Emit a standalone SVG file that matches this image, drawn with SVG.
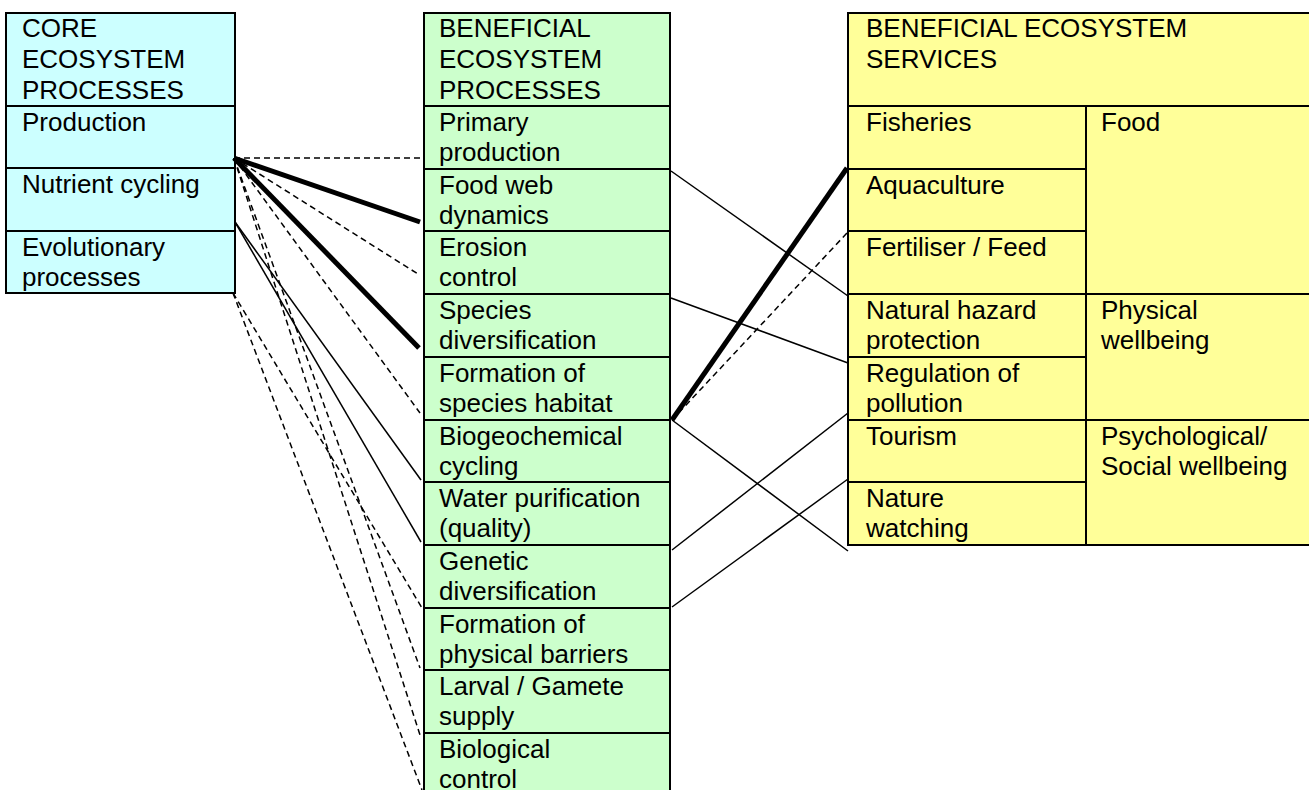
<svg xmlns="http://www.w3.org/2000/svg" width="1309" height="790" viewBox="0 0 1309 790">
<style>
.c{fill:#CCFFFF;stroke:#000;stroke-width:2}
.g{fill:#CCFFCC;stroke:#000;stroke-width:2}
.y{fill:#FFFF99;stroke:#000;stroke-width:2}
text{font-family:"Liberation Sans",Arial,sans-serif;font-size:26px;fill:#000}
.thin{stroke:#000;stroke-width:1.5;fill:none}
.thick{stroke:#000;stroke-width:5;fill:none}
.dash{stroke:#000;stroke-width:1.5;fill:none;stroke-dasharray:6,4}
</style>
<rect width="1309" height="790" fill="#fff"/>
<g id="core">
<rect class="c" x="6" y="13" width="229" height="93"/>
<text x="22" y="37">CORE</text><text x="22" y="68">ECOSYSTEM</text><text x="22" y="99">PROCESSES</text>
<rect class="c" x="6" y="106" width="229" height="62"/>
<text x="22" y="131">Production</text>
<rect class="c" x="6" y="168" width="229" height="63"/>
<text x="22" y="193">Nutrient cycling</text>
<rect class="c" x="6" y="231" width="229" height="62"/>
<text x="22" y="256">Evolutionary</text><text x="22" y="286">processes</text>
</g>
<g id="beneficial-processes">
<rect class="g" x="424" y="13" width="246" height="93"/>
<text x="439" y="37">BENEFICIAL</text><text x="439" y="68">ECOSYSTEM</text><text x="439" y="99">PROCESSES</text>
<rect class="g" x="424" y="106" width="246" height="63"/>
<text x="439" y="131">Primary</text><text x="439" y="161">production</text>
<rect class="g" x="424" y="169" width="246" height="62"/>
<text x="439" y="194">Food web</text><text x="439" y="224">dynamics</text>
<rect class="g" x="424" y="231" width="246" height="63"/>
<text x="439" y="256">Erosion</text><text x="439" y="286">control</text>
<rect class="g" x="424" y="294" width="246" height="63"/>
<text x="439" y="319">Species</text><text x="439" y="349">diversification</text>
<rect class="g" x="424" y="357" width="246" height="63"/>
<text x="439" y="382">Formation of</text><text x="439" y="412">species habitat</text>
<rect class="g" x="424" y="420" width="246" height="62"/>
<text x="439" y="445">Biogeochemical</text><text x="439" y="475">cycling</text>
<rect class="g" x="424" y="482" width="246" height="63"/>
<text x="439" y="507">Water purification</text><text x="439" y="537">(quality)</text>
<rect class="g" x="424" y="545" width="246" height="63"/>
<text x="439" y="570">Genetic</text><text x="439" y="600">diversification</text>
<rect class="g" x="424" y="608" width="246" height="62"/>
<text x="439" y="633">Formation of</text><text x="439" y="663">physical barriers</text>
<rect class="g" x="424" y="670" width="246" height="63"/>
<text x="439" y="695">Larval / Gamete</text><text x="439" y="725">supply</text>
<rect class="g" x="424" y="733" width="246" height="70"/>
<text x="439" y="758">Biological</text><text x="439" y="788">control</text>
</g>
<g id="services">
<rect class="y" x="848" y="13" width="463" height="93"/>
<text x="866" y="37">BENEFICIAL ECOSYSTEM</text><text x="866" y="68">SERVICES</text>
<rect class="y" x="848" y="106" width="238" height="63"/>
<text x="866" y="131">Fisheries</text>
<rect class="y" x="848" y="169" width="238" height="62"/>
<text x="866" y="194">Aquaculture</text>
<rect class="y" x="848" y="231" width="238" height="63"/>
<text x="866" y="256">Fertiliser / Feed</text>
<rect class="y" x="848" y="294" width="238" height="63"/>
<text x="866" y="319">Natural hazard</text><text x="866" y="349">protection</text>
<rect class="y" x="848" y="357" width="238" height="63"/>
<text x="866" y="382">Regulation of</text><text x="866" y="412">pollution</text>
<rect class="y" x="848" y="420" width="238" height="62"/>
<text x="866" y="445">Tourism</text>
<rect class="y" x="848" y="482" width="238" height="63"/>
<text x="866" y="507">Nature</text><text x="866" y="537">watching</text>
<rect class="y" x="1086" y="106" width="225" height="188"/>
<text x="1101" y="131">Food</text>
<rect class="y" x="1086" y="294" width="225" height="126"/>
<text x="1101" y="319">Physical</text><text x="1101" y="349">wellbeing</text>
<rect class="y" x="1086" y="420" width="225" height="125"/>
<text x="1101" y="445">Psychological/</text><text x="1101" y="475">Social wellbeing</text>
</g>
<g id="connectors">
<line class="dash" x1="234" y1="158" x2="423" y2="158"/>
<line class="thick" x1="234" y1="158" x2="420" y2="222"/>
<line class="dash" x1="234" y1="158" x2="418" y2="274"/>
<line class="thick" x1="234" y1="158" x2="419" y2="348"/>
<line class="dash" x1="234" y1="158" x2="420" y2="413"/>
<line class="dash" x1="234" y1="158" x2="420" y2="668"/>
<line class="dash" x1="234" y1="158" x2="420" y2="735"/>
<line class="thin" x1="235" y1="222" x2="421" y2="480"/>
<line class="thin" x1="235" y1="222" x2="421" y2="542"/>
<line class="dash" x1="233" y1="293" x2="422" y2="608"/>
<line class="dash" x1="233" y1="293" x2="422" y2="790"/>
<line class="thin" x1="671" y1="171" x2="848" y2="296"/>
<line class="thin" x1="671" y1="298" x2="848" y2="363"/>
<line class="thick" x1="672" y1="420" x2="847" y2="168"/>
<line class="dash" x1="672" y1="420" x2="847" y2="233"/>
<line class="thin" x1="672" y1="420" x2="848" y2="551"/>
<line class="thin" x1="672" y1="550" x2="848" y2="413"/>
<line class="thin" x1="672" y1="607" x2="848" y2="479"/>
</g>
</svg>
